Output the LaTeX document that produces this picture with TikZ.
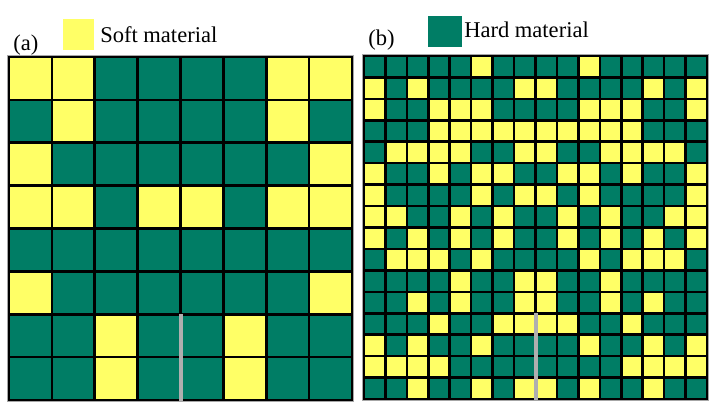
\documentclass[tikz,border=0pt]{standalone}
\usepackage{fontspec}
\setmainfont{Liberation Serif}
\usetikzlibrary{positioning}
\definecolor{sCell}{RGB}{255,255,102}
\definecolor{hCell}{RGB}{0,125,101}
\definecolor{frameGray}{RGB}{166,166,166}
\definecolor{crackGray}{RGB}{175,175,175}
\newcommand{\XA}{9}
\newcommand{\YA}{57}
\newcommand{\XB}{364}
\newcommand{\YB}{56}
\newcommand{\CellA}{42.875}
\newcommand{\CellB}{21.4375}
% s = soft cell, h = hard cell, one row per entry (top to bottom)
\newcommand{\GridA}{%
  {s,s,h,h,h,h,s,s},
  {h,s,h,h,h,h,s,h},
  {s,h,h,h,h,h,h,s},
  {s,s,h,s,s,h,s,s},
  {h,h,h,h,h,h,h,h},
  {s,h,h,h,h,h,h,s},
  {h,h,s,h,h,s,h,h},
  {h,h,s,h,h,s,h,h}}
\newcommand{\GridB}{%
  {h,h,h,h,h,s,h,h,h,h,s,h,h,h,h,h},
  {s,h,s,h,h,h,h,s,s,h,h,h,h,s,h,s},
  {s,h,h,s,s,s,h,h,h,h,s,s,s,h,h,s},
  {h,h,h,s,s,s,s,s,s,s,s,s,s,h,h,h},
  {h,s,s,s,s,h,h,s,s,h,h,s,s,s,s,h},
  {s,h,h,s,h,s,s,h,h,s,s,h,s,h,h,s},
  {s,h,h,h,h,s,h,s,s,h,s,h,h,h,h,s},
  {s,s,h,h,s,h,s,h,h,s,h,s,h,h,s,s},
  {s,h,s,h,s,h,s,h,h,s,h,s,h,s,h,s},
  {h,s,s,s,h,s,h,h,h,h,s,h,s,s,s,h},
  {h,h,h,h,s,h,h,s,s,h,h,s,h,h,h,h},
  {h,h,s,h,s,h,h,s,s,h,h,s,h,s,h,h},
  {h,h,h,s,h,h,s,s,s,s,h,h,s,h,h,h},
  {s,h,s,h,h,s,h,h,h,h,s,h,h,s,h,s},
  {s,s,s,s,h,h,h,h,h,h,h,h,s,s,s,s},
  {h,h,s,h,h,s,h,s,s,h,s,h,h,s,h,h}}
\newcommand{\PlaceGrid}[4]{%
  % #1=rows  #2=x0  #3=y0  #4=cell size
  \foreach \rowlist [count=\r] in #1{%
    \foreach \c [count=\k] in \rowlist{%
      \path[cell, fill=\c Cell] ({#2+(\k-1)*#4},{#3+(\r-1)*#4}) rectangle ++(#4,#4);
    }%
  }%
}

\begin{document}
\begin{tikzpicture}[
  x=0.75pt, y=-0.75pt,
  cell/.style   = {draw=black, line width=1.9pt},
  frame/.style  = {draw=frameGray, line width=0.9pt},
  crack/.style  = {crackGray, line width=3pt},
  key/.style    = {anchor=north west, inner sep=0pt, minimum height=23pt},
  lbl/.style    = {font=\fontsize{16.9}{20}\selectfont, anchor=base west, inner sep=0pt},
]
\useasboundingbox (0,0) rectangle (718,415);

% ----------------------------------------------------------------
% Grids (thin grey frame just outside the black border)
% ----------------------------------------------------------------
\draw[frame] (\XA-1.4,\YA-1.4) rectangle ++({8*\CellA+2.8},{8*\CellA+2.8});
\draw[frame] (\XB-1.4,\YB-1.4) rectangle ++({16*\CellB+2.8},{16*\CellB+2.8});

\PlaceGrid{\GridA}{\XA}{\YA}{\CellA}
\PlaceGrid{\GridB}{\XB}{\YB}{\CellB}

% ----------------------------------------------------------------
% Cracks
% ----------------------------------------------------------------
\coordinate (crackAtop) at ({\XA+4*\CellA},{\YA+6*\CellA});
\coordinate (crackAbot) at ({\XA+4*\CellA},{\YA+8*\CellA+1.4});
\coordinate (crackBtop) at ({\XB+8*\CellB},{\YB+12*\CellB});
\coordinate (crackBbot) at ({\XB+8*\CellB},{\YB+16*\CellB+1.4});
\draw[crack] (crackAtop) -- (crackAbot);
\draw[crack] (crackBtop) -- (crackBbot);

% ----------------------------------------------------------------
% Legend and panel labels
% ----------------------------------------------------------------
\node[key, fill=sCell, minimum width=23pt] (softKey) at (63,19) {};
\node[lbl] (softLbl) at (100,42) {Soft material};
\node[lbl] (panelA) at (13,50) {(a)};

\node[key, fill=hCell, minimum width=25pt] (hardKey) at (428,16) {};
\node[lbl] (hardLbl) at (464,37) {Hard material};
\node[lbl] (panelB) at (368,45) {(b)};

\end{tikzpicture}
\end{document}
